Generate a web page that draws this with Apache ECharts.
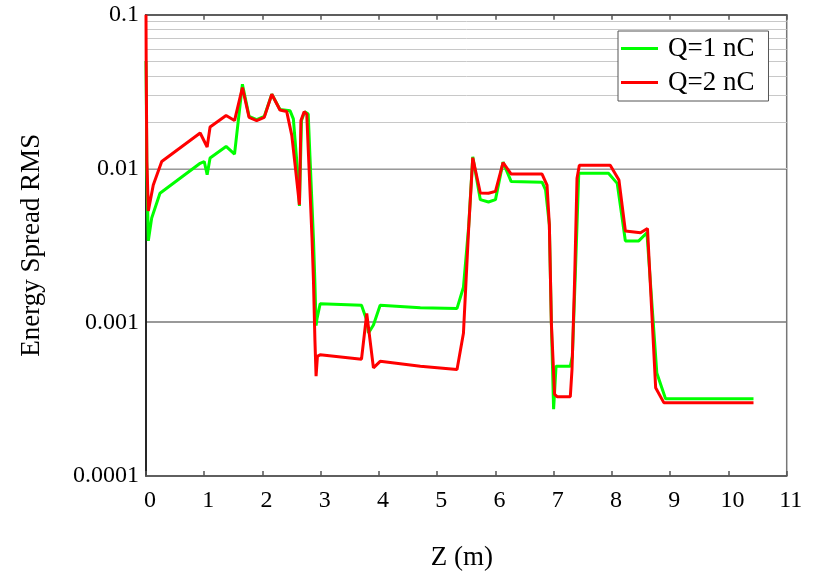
<!DOCTYPE html>
<html>
<head>
<meta charset="utf-8">
<script src="https://cdn.jsdelivr.net/npm/echarts@6/dist/echarts.min.js"></script>
<style>html,body{margin:0;padding:0;background:#fff;}#c{width:814px;height:576px;}</style>
</head>
<body>
<div id="c"></div>
<script>
// Q=1 nC (green)
const zQ1 = [0, 0.005, 0.015, 0.04, 0.098, 0.24, 0.93, 1.0, 1.05, 1.10, 1.375, 1.52, 1.655, 1.77, 1.90, 2.03, 2.16, 2.30, 2.474, 2.53, 2.59, 2.634, 2.67, 2.725, 2.785, 2.815, 2.875, 2.90, 2.92, 2.935, 2.99, 3.70, 3.79, 3.82, 3.905, 4.02, 4.71, 5.34, 5.45, 5.54, 5.61, 5.74, 5.88, 6.00, 6.13, 6.27, 6.80, 6.86, 6.925, 6.96, 6.998, 7.04, 7.285, 7.32, 7.37, 7.43, 7.94, 8.09, 8.23, 8.46, 8.60, 8.77, 8.92, 10.43];
const vQ1 = [0.05, 0.03, 0.0095, 0.00338, 0.00477, 0.0069, 0.0108, 0.0111, 0.0091, 0.0117, 0.0139, 0.0124, 0.0353, 0.0218, 0.0208, 0.0218, 0.0304, 0.0242, 0.0237, 0.021, 0.011, 0.0057, 0.0205, 0.0234, 0.0226, 0.012, 0.0035, 0.0018, 0.00095, 0.00105, 0.00132, 0.00129, 0.00103, 0.00085, 0.00096, 0.00129, 0.00124, 0.00123, 0.00169, 0.0042, 0.0119, 0.00627, 0.00605, 0.00627, 0.011, 0.00822, 0.00815, 0.00727, 0.0043, 0.00098, 0.000272, 0.000518, 0.000518, 0.0006, 0.002, 0.0093, 0.0093, 0.008, 0.00338, 0.00338, 0.00382, 0.000468, 0.000318, 0.000318];
// Q=2 nC (red)
const zQ2 = [0, 0.003, 0.015, 0.04, 0.125, 0.27, 0.93, 1.05, 1.10, 1.375, 1.52, 1.655, 1.77, 1.90, 2.03, 2.16, 2.30, 2.415, 2.503, 2.56, 2.634, 2.66, 2.715, 2.76, 2.79, 2.85, 2.875, 2.90, 2.92, 2.943, 2.99, 3.70, 3.79, 3.905, 4.02, 4.71, 5.34, 5.45, 5.54, 5.61, 5.74, 5.88, 6.00, 6.13, 6.27, 6.80, 6.885, 6.925, 6.96, 7.015, 7.057, 7.285, 7.314, 7.36, 7.40, 7.44, 7.97, 8.12, 8.23, 8.49, 8.61, 8.75, 8.89, 10.43];
const vQ2 = [0.1, 0.049, 0.0111, 0.0053, 0.0078, 0.0111, 0.017, 0.0138, 0.0186, 0.0221, 0.0205, 0.0336, 0.0215, 0.0205, 0.0215, 0.0304, 0.024, 0.0235, 0.0164, 0.0105, 0.0058, 0.0205, 0.0234, 0.0226, 0.0122, 0.00355, 0.00187, 0.000768, 0.000446, 0.0006, 0.000615, 0.000575, 0.00114, 0.000505, 0.000557, 0.000518, 0.000493, 0.000847, 0.00411, 0.01175, 0.00692, 0.0069, 0.0071, 0.0109, 0.0092, 0.0092, 0.0078, 0.0043, 0.00098, 0.00034, 0.000328, 0.000328, 0.000493, 0.00196, 0.00863, 0.0105, 0.0105, 0.0084, 0.00392, 0.00382, 0.00407, 0.000375, 0.0003, 0.0003];

const seriesNames = ['Q=1 nC', 'Q=2 nC'];
const yTickValues = [0.0001, 0.001, 0.01, 0.1];
const yTickLabels = ['0.0001', '0.001', '0.01', '0.1'];
const yMinorGrid = [0.0002,0.0003,0.0004,0.0005,0.0006,0.0007,0.0008,0.0009,
                    0.002,0.003,0.004,0.005,0.006,0.007,0.008,0.009,
                    0.02,0.03,0.04,0.05,0.06,0.07,0.08,0.09];

const FONT = 'Liberation Serif, Times New Roman, serif';
const zip = (a, b) => a.map((x, i) => [x, b[i]]);

const chart = echarts.init(document.getElementById('c'), null, {renderer: 'canvas', width: 814, height: 576});
chart.setOption({
  animation: false,
  backgroundColor: '#fff',
  grid: {left: 146, width: 640.7, top: 14.7, height: 465.6, show: true, borderColor: '#777', borderWidth: 1.5, backgroundColor: 'transparent'},
  legend: {
    data: seriesNames, orient: 'vertical', left: 618, top: 31,
    backgroundColor: '#fff', borderColor: '#555', borderWidth: 1,
    padding: [4, 14, 5, 3], itemGap: 7, itemWidth: 37, itemHeight: 3, icon: 'rect',
    textStyle: {fontFamily: FONT, fontSize: 27, color: '#000', padding: [0, 0, 0, 5]}
  },
  xAxis: [{
    type: 'value', min: 0, max: 11, interval: 1, position: 'bottom',
    name: 'Z (m)', nameLocation: 'middle', nameGap: 68,
    nameTextStyle: {fontFamily: FONT, fontSize: 27, color: '#000', padding: [0, 9, 0, 0]},
    axisLine: {show: true, lineStyle: {color: '#555', width: 1.5}},
    axisTick: {show: true, inside: true, length: 5, lineStyle: {color: '#555', width: 1.5}},
    axisLabel: {fontFamily: FONT, fontSize: 24, color: '#000', margin: 13, padding: [0, 0, 0, 8]},
    splitLine: {show: false}
  }, {
    type: 'value', min: 0, max: 11, interval: 1, position: 'top',
    axisLine: {show: true, lineStyle: {color: '#555', width: 1.5}},
    axisTick: {show: true, inside: true, length: 5, lineStyle: {color: '#555', width: 1.5}},
    axisLabel: {show: false}, splitLine: {show: false}
  }],
  yAxis: {
    type: 'log', logBase: 10, min: 0.0001, max: 0.1,
    name: 'Energy Spread RMS', nameLocation: 'middle', nameGap: 101,
    nameTextStyle: {fontFamily: FONT, fontSize: 27, color: '#000'},
    axisLine: {show: true, lineStyle: {color: '#000', width: 1.5}},
    axisTick: {show: false},
    axisLabel: {fontFamily: FONT, fontSize: 24, color: '#000', margin: 7,
      formatter: v => {
        let best = 0;
        yTickValues.forEach((t, i) => { if (Math.abs(Math.log10(t) - Math.log10(v)) < Math.abs(Math.log10(yTickValues[best]) - Math.log10(v))) best = i; });
        return yTickLabels[best];
      }},
    splitLine: {show: true, lineStyle: {color: '#777', width: 1.5}}
  },
  series: [{
    name: seriesNames[0], type: 'line', xAxisIndex: 0, data: zip(zQ1, vQ1),
    showSymbol: false, symbol: 'none', z: 3,
    lineStyle: {color: '#00ff00', width: 3}, itemStyle: {color: '#00ff00'},
    markLine: {
      silent: true, symbol: ['none', 'none'], z: 1, animation: false,
      label: {show: false},
      lineStyle: {color: '#c8c8c8', width: 1, type: 'solid'},
      emphasis: {disabled: true},
      data: yMinorGrid.map(v => ({yAxis: v}))
    }
  }, {
    name: seriesNames[1], type: 'line', xAxisIndex: 0, data: zip(zQ2, vQ2),
    showSymbol: false, symbol: 'none', z: 4,
    lineStyle: {color: '#ff0000', width: 3}, itemStyle: {color: '#ff0000'}
  }]
});
</script>
</body>
</html>
